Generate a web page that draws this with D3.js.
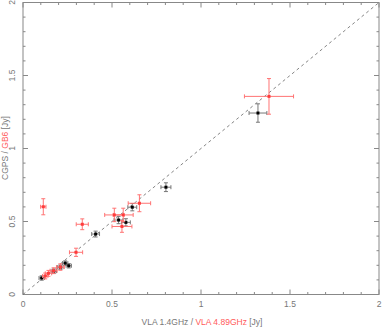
<!DOCTYPE html>
<html>
<head>
<meta charset="UTF-8" />
<script src="https://d3js.org/d3.v7.min.js"></script>
<style>
  body { margin: 0; background: #fff; }
  svg text { font-family: "Liberation Sans", Arial, sans-serif; font-size: 8.5px; fill: #777; }
</style>
</head>
<body>
<svg width="382" height="327"></svg>
<script>
// VLA 1.4GHz vs CGPS (black)
const blackX  = [0.105, 0.173, 0.210, 0.237, 0.257, 0.408, 0.537, 0.578, 0.614, 0.803, 1.320];
const blackY  = [0.113, 0.160, 0.187, 0.215, 0.197, 0.414, 0.510, 0.494, 0.598, 0.735, 1.243];
const blackEX = [0.015, 0.015, 0.015, 0.015, 0.015, 0.022, 0.025, 0.025, 0.025, 0.028, 0.050];
const blackEY = [0.015, 0.015, 0.015, 0.015, 0.015, 0.020, 0.025, 0.025, 0.025, 0.030, 0.063];

// VLA 4.89GHz vs GB6 (red)
const redX  = [0.114, 0.125, 0.143, 0.172, 0.210, 0.298, 0.333, 0.513, 0.563, 0.556, 0.654, 1.382];
const redY  = [0.601, 0.127, 0.145, 0.163, 0.188, 0.289, 0.481, 0.545, 0.545, 0.466, 0.625, 1.357];
const redEX = [0.015, 0.015, 0.018, 0.020, 0.022, 0.037, 0.034, 0.054, 0.056, 0.056, 0.063, 0.138];
const redEY = [0.055, 0.020, 0.020, 0.020, 0.022, 0.028, 0.037, 0.046, 0.046, 0.040, 0.058, 0.122];

const majorTicks = [0, 0.5, 1, 1.5, 2];
const tickLabels = ["0", "0.5", "1", "1.5", "2"];

const svg = d3.select("svg");
const mLeft = 23, mRight = 379, mTop = 2.5, mBottom = 294.5;

const x = d3.scaleLinear().domain([0, 2]).range([mLeft, mRight]);
const y = d3.scaleLinear().domain([0, 2]).range([mBottom, mTop]);

const frameColor = "#888";

// frame
svg.append("rect")
  .attr("x", mLeft).attr("y", mTop)
  .attr("width", mRight - mLeft).attr("height", mBottom - mTop)
  .attr("fill", "none").attr("stroke", frameColor).attr("stroke-width", 1);

// ticks (inward, all four sides)
const minor = d3.range(0, 2.0001, 0.1);
const tg = svg.append("g").attr("stroke", frameColor).attr("stroke-width", 1);
minor.forEach(v => {
  const isMajor = Math.abs(v * 2 - Math.round(v * 2)) < 1e-6;
  const len = isMajor ? 5 : 2.5;
  tg.append("line").attr("x1", x(v)).attr("x2", x(v)).attr("y1", mBottom).attr("y2", mBottom - len);
  tg.append("line").attr("x1", x(v)).attr("x2", x(v)).attr("y1", mTop).attr("y2", mTop + len);
  tg.append("line").attr("y1", y(v)).attr("y2", y(v)).attr("x1", mLeft).attr("x2", mLeft + len);
  tg.append("line").attr("y1", y(v)).attr("y2", y(v)).attr("x1", mRight).attr("x2", mRight - len);
});

// tick labels
svg.append("g").selectAll("text").data(majorTicks).join("text")
  .attr("x", d => x(d)).attr("y", 307)
  .attr("text-anchor", "middle")
  .text((d, i) => tickLabels[i]);

svg.append("g").selectAll("text").data(majorTicks).join("text")
  .attr("transform", d => `translate(15,${y(d)}) rotate(-90)`)
  .attr("text-anchor", "middle")
  .text((d, i) => tickLabels[i]);

// axis titles
const xt = svg.append("text").attr("x", 202).attr("y", 325).attr("text-anchor", "middle");
xt.append("tspan").text("VLA 1.4GHz / ");
xt.append("tspan").style("fill", "#ff5a5a").text("VLA 4.89GHz");
xt.append("tspan").text(" [Jy]");

const yt = svg.append("text").attr("transform", "translate(8,148) rotate(-90)").attr("text-anchor", "middle");
yt.append("tspan").text("CGPS / ");
yt.append("tspan").style("fill", "#ff5a5a").text("GB6");
yt.append("tspan").text(" [Jy]");

// one-to-one line
svg.append("line")
  .attr("x1", x(0)).attr("y1", y(0)).attr("x2", x(2)).attr("y2", y(2))
  .attr("stroke", "#666").attr("stroke-width", 0.8).attr("stroke-dasharray", "3,3");

function drawSeries(xs, ys, exs, eys, barColor, markColor) {
  const pts = xs.map((v, i) => ({ x: v, y: ys[i], ex: exs[i], ey: eys[i] }));
  const g = svg.append("g").attr("stroke", barColor).attr("stroke-width", 1).attr("fill", "none");
  const cap = 2;
  pts.forEach(d => {
    const cx = x(d.x), cy = y(d.y);
    const x0 = x(d.x - d.ex), x1 = x(d.x + d.ex);
    const y0 = y(d.y - d.ey), y1 = y(d.y + d.ey);
    g.append("line").attr("x1", x0).attr("x2", x1).attr("y1", cy).attr("y2", cy);
    g.append("line").attr("x1", cx).attr("x2", cx).attr("y1", y0).attr("y2", y1);
    g.append("line").attr("x1", x0).attr("x2", x0).attr("y1", cy - cap).attr("y2", cy + cap);
    g.append("line").attr("x1", x1).attr("x2", x1).attr("y1", cy - cap).attr("y2", cy + cap);
    g.append("line").attr("x1", cx - cap).attr("x2", cx + cap).attr("y1", y0).attr("y2", y0);
    g.append("line").attr("x1", cx - cap).attr("x2", cx + cap).attr("y1", y1).attr("y2", y1);
  });
  svg.append("g").selectAll("rect").data(pts).join("rect")
    .attr("x", d => x(d.x) - 1.5).attr("y", d => y(d.y) - 1.5)
    .attr("width", 3).attr("height", 3)
    .attr("fill", markColor);
}

drawSeries(blackX, blackY, blackEX, blackEY, "#777", "#000");
drawSeries(redX, redY, redEX, redEY, "#ff7373", "#ff3b3b");
</script>
</body>
</html>
